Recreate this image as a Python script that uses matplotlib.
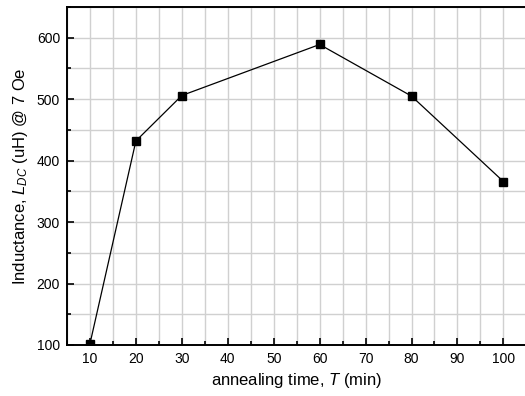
import matplotlib.pyplot as plt
from matplotlib.ticker import MultipleLocator

plt.rcParams['font.family'] = ['Liberation Sans', 'DejaVu Sans']
plt.rcParams['mathtext.fontset'] = 'custom'
plt.rcParams['mathtext.it'] = 'Liberation Sans:italic'
plt.rcParams['mathtext.rm'] = 'Liberation Sans'

time_min = [10, 20, 30, 60, 80, 100]
inductance = [102, 432, 506, 589, 505, 366]

fig = plt.figure(figsize=(5.25, 3.96), dpi=100)
ax = fig.add_axes([0.1276, 0.1288, 0.875, 0.8535])

ax.plot(time_min, inductance, color='black', lw=0.9, marker='s',
        markersize=6, markerfacecolor='black', zorder=1.5)

ax.set_xlim(5, 105)
ax.set_ylim(100, 650)
ax.xaxis.set_major_locator(MultipleLocator(10))
ax.xaxis.set_minor_locator(MultipleLocator(5))
ax.yaxis.set_major_locator(MultipleLocator(100))
ax.yaxis.set_minor_locator(MultipleLocator(50))
ax.grid(True, which='both', color='#d0d0d0', lw=1.0, zorder=0)
ax.set_axisbelow(True)

ax.tick_params(which='both', direction='in', top=False, right=False,
               labelsize=10, width=1.2)
ax.tick_params(which='major', length=5, pad=5)
ax.tick_params(which='minor', length=3)
for s in ax.spines.values():
    s.set_linewidth(1.4)
    s.set_zorder(3)

ax.set_xlabel('annealing time, $T$ (min)', fontsize=12, labelpad=4)
ax.set_ylabel('Inductance, $L_{DC}$ (uH) @ 7 Oe', fontsize=12, labelpad=5)

fig.savefig('out.png', dpi=100)
